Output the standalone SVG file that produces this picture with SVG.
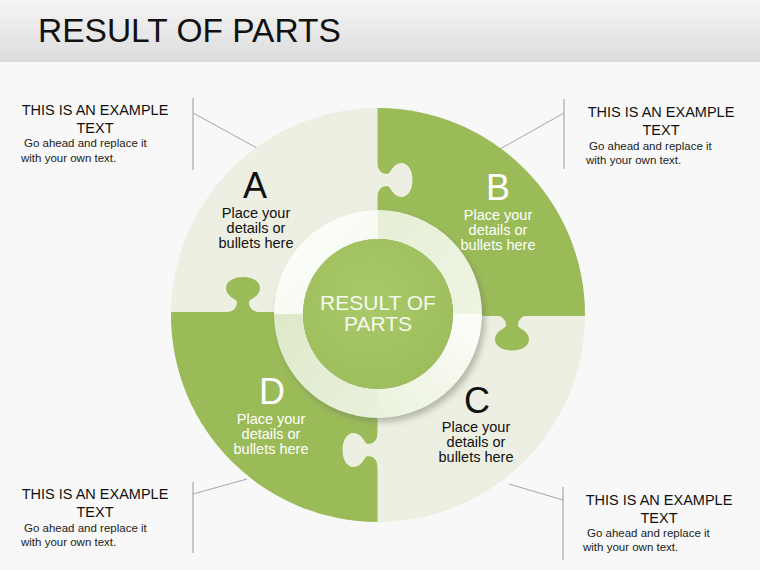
<svg xmlns="http://www.w3.org/2000/svg" width="760" height="570" viewBox="0 0 760 570">
<style>
text{font-family:"Liberation Sans",Arial,sans-serif}
.title{font-size:33.5px;fill:#111}
.hd{font-size:14.5px;fill:#111;text-anchor:middle}
.bd{font-size:11.5px;fill:#222}
.let{font-size:36px;text-anchor:middle}
.pl{font-size:14.5px;text-anchor:middle}
.dk{fill:#111}
.wt{fill:#fff}
.ln{stroke:#a6a6a6;stroke-width:1;fill:none}
.vl{stroke:#b8b8b8;stroke-width:1.5;fill:none}
.lt{fill:#ecefe1}
.gr{fill:#9bbb59}
</style>
<defs>
<linearGradient id="bar" x1="0" y1="0" x2="0" y2="1"><stop offset="0" stop-color="#f5f5f5"/><stop offset="1" stop-color="#dcdcdc"/></linearGradient>
<radialGradient id="core" cx="0.45" cy="0.4" r="0.6"><stop offset="0" stop-color="#aac96a"/><stop offset="1" stop-color="#9ebe5d"/></radialGradient>
<linearGradient id="gTL" x1="0" y1="0" x2="1" y2="1"><stop offset="0" stop-color="#ffffff"/><stop offset="1" stop-color="#f3f7ea"/></linearGradient>
<linearGradient id="gTR" x1="0" y1="0" x2="1" y2="1"><stop offset="0" stop-color="#e6efd6"/><stop offset="1" stop-color="#eef4e2"/></linearGradient>
<linearGradient id="gBR" x1="1" y1="0" x2="0" y2="1"><stop offset="0" stop-color="#fdfefb"/><stop offset="1" stop-color="#eaf1dc"/></linearGradient>
<linearGradient id="gBL" x1="1" y1="1" x2="0" y2="0"><stop offset="0" stop-color="#e9f1dc"/><stop offset="1" stop-color="#dde9c9"/></linearGradient>
<clipPath id="disc"><circle cx="378" cy="315" r="207"/></clipPath>
<filter id="sh" x="-20%" y="-20%" width="140%" height="140%"><feGaussianBlur stdDeviation="3"/></filter>
<path id="knob" d="M-17,1 L-17,0 C-9,0 -6,-5 -6,-10 C-6,-13 -17,-15 -17,-24 C-17,-31 -9,-35 0,-35 C9,-35 17,-31 17,-24 C17,-15 6,-13 6,-10 C6,-5 9,0 17,0 L17,1 Z"/>
</defs>
<rect x="0" y="0" width="760" height="570" fill="#f8f8f8"/>
<rect x="0" y="0" width="760" height="62" fill="url(#bar)"/>
<text class="title" x="38" y="42">RESULT OF PARTS</text>

<g id="connectors">
<polyline class="vl" points="193,98 193,170"/>
<line class="ln" x1="193" y1="113" x2="257" y2="148"/>
<polyline class="vl" points="564,99 564,169"/>
<line class="ln" x1="564" y1="113" x2="500" y2="149"/>
<polyline class="vl" points="193,482 193,553"/>
<line class="ln" x1="193" y1="494" x2="247" y2="479"/>
<polyline class="vl" points="563,487 563,560"/>
<line class="ln" x1="509" y1="484" x2="563" y2="500"/>
</g>

<g id="puzzle">
<circle class="lt" cx="378" cy="315" r="207"/>
<g clip-path="url(#disc)">
<rect class="gr" x="377.5" y="100" width="215" height="216"/>
<rect class="gr" x="165" y="312" width="212.5" height="215"/>
</g>
<use href="#knob" class="gr" transform="translate(243,312)"/>
<use href="#knob" class="lt" transform="translate(377.5,180) rotate(90)"/>
<use href="#knob" class="gr" transform="translate(512,315.5) rotate(180)"/>
<use href="#knob" class="lt" transform="translate(377.5,450) rotate(-90)"/>
</g>

<g id="node-A">
<text class="let dk" x="255" y="198">A</text>
<text class="pl dk" x="256" y="218">Place your</text>
<text class="pl dk" x="256" y="233">details or</text>
<text class="pl dk" x="256" y="248">bullets here</text>
</g>
<g id="node-B">
<text class="let wt" x="498" y="200">B</text>
<text class="pl wt" x="498" y="220">Place your</text>
<text class="pl wt" x="498" y="235">details or</text>
<text class="pl wt" x="498" y="250">bullets here</text>
</g>
<g id="node-C">
<text class="let dk" x="477" y="413">C</text>
<text class="pl dk" x="476" y="432">Place your</text>
<text class="pl dk" x="476" y="447">details or</text>
<text class="pl dk" x="476" y="462">bullets here</text>
</g>
<g id="node-D">
<text class="let wt" x="272" y="404">D</text>
<text class="pl wt" x="271" y="424">Place your</text>
<text class="pl wt" x="271" y="439">details or</text>
<text class="pl wt" x="271" y="454">bullets here</text>
</g>

<g id="node-center">
<circle cx="381" cy="318" r="104" fill="#6d7560" opacity="0.45" filter="url(#sh)"/>
<path d="M274,314 A104,104 0 0 1 378,210 L378,239 A75,75 0 0 0 303,314 Z" fill="url(#gTL)"/>
<path d="M378,210 A104,104 0 0 1 482,314 L453,314 A75,75 0 0 0 378,239 Z" fill="url(#gTR)"/>
<path d="M482,314 A104,104 0 0 1 378,418 L378,389 A75,75 0 0 0 453,314 Z" fill="url(#gBR)"/>
<path d="M378,418 A104,104 0 0 1 274,314 L303,314 A75,75 0 0 0 378,389 Z" fill="url(#gBL)"/>
<circle cx="378" cy="314" r="75" fill="url(#core)"/>
<text x="378" y="310" font-size="21" fill="#f6f9ef" text-anchor="middle">RESULT OF</text>
<text x="378" y="331" font-size="21" fill="#f6f9ef" text-anchor="middle">PARTS</text>
</g>

<g id="note-tl">
<text class="hd" x="95" y="115">THIS IS AN EXAMPLE</text>
<text class="hd" x="95" y="133">TEXT</text>
<text class="bd" x="24" y="147">Go ahead and replace it</text>
<text class="bd" x="21" y="162">with your own text.</text>
</g>
<g id="note-tr">
<text class="hd" x="661" y="117">THIS IS AN EXAMPLE</text>
<text class="hd" x="661" y="135">TEXT</text>
<text class="bd" x="589" y="150">Go ahead and replace it</text>
<text class="bd" x="586" y="164">with your own text.</text>
</g>
<g id="note-bl">
<text class="hd" x="95" y="499">THIS IS AN EXAMPLE</text>
<text class="hd" x="95" y="517">TEXT</text>
<text class="bd" x="24" y="532">Go ahead and replace it</text>
<text class="bd" x="21" y="546">with your own text.</text>
</g>
<g id="note-br">
<text class="hd" x="659" y="505">THIS IS AN EXAMPLE</text>
<text class="hd" x="659" y="523">TEXT</text>
<text class="bd" x="587" y="537">Go ahead and replace it</text>
<text class="bd" x="583" y="551">with your own text.</text>
</g>
</svg>
